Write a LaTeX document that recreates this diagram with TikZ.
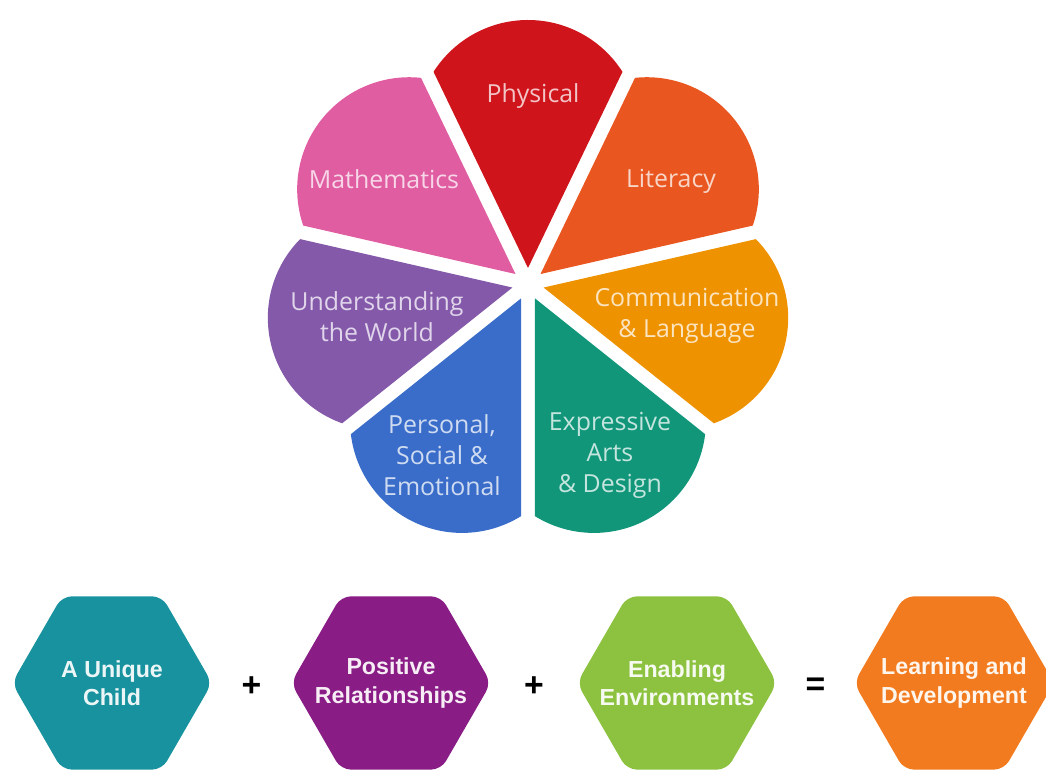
\documentclass[tikz,border=0pt]{standalone}
\usepackage{fontspec}
\setmainfont{Open Sans}
\newfontfamily\hexfont{Liberation Sans}
\usetikzlibrary{calc,shapes.geometric}

\definecolor{physical}{HTML}{D0141C}
\definecolor{maths}{HTML}{E05DA1}
\definecolor{world}{HTML}{8459AA}
\definecolor{personal}{HTML}{3A6DC9}
\definecolor{expressive}{HTML}{11967A}
\definecolor{communication}{HTML}{EF9200}
\definecolor{literacy}{HTML}{E9561F}
\definecolor{child}{HTML}{17929E}
\definecolor{positive}{HTML}{8A1C86}
\definecolor{enabling}{HTML}{8CC240}
\definecolor{learning}{HTML}{F37B1F}

\tikzset{
    petal label/.style={text=white!75!#1, align=center, font=\fontsize{17.7}{22}\selectfont},
    hexagon/.style={regular polygon, regular polygon sides=6, minimum size=5cm, inner sep=0pt,
        fill=#1, rounded corners=7pt},
    hex label/.style={text=white!92!#1, align=center,
        font=\hexfont\bfseries\fontsize{16.5}{20}\selectfont},
    sign/.style={font=\hexfont\bfseries\fontsize{24}{24}\selectfont}
}

\begin{document}
\begin{tikzpicture}[x=0.025cm,y=0.025cm]
        \useasboundingbox (0,0) rectangle (1046,773);
        \coordinate (O) at (528,489);
        % petals
        \foreach \ang/\col in {90/physical, 141.43/maths, 192.86/world, 244.29/personal,
                               295.71/expressive, 347.14/communication, 38.57/literacy} {
            \fill[\col] ($(O)+(\ang:16)$) -- ($(O)+(\ang:152)+(\ang-57.5:112)$)
                arc[start angle=\ang-57.5, end angle=\ang+57.5, radius=112] -- cycle;
        }
        \node[petal label=physical] (phys) at (533,677) {Physical};
        \node[petal label=maths] (math) at (384,594) {Mathematics};
        \node[petal label=literacy] (lit) at (671,592) {Literacy};
        \node[petal label=world] (utw) at (377,456) {Understanding\\the World};
        \node[petal label=communication] (cl) at (687,457) {Communication\\\& Language};
        \node[petal label=personal] (pse) at (442,318) {Personal,\\Social \&\\Emotional};
        \node[petal label=expressive] (ead) at (610,318) {Expressive\\Arts\\\& Design};
        % bottom row
        \node[hexagon=child] (uc) at (112,90) {};
        \node[hexagon=positive] (pr) at (391,90) {};
        \node[hexagon=enabling] (ee) at (677,90) {};
        \node[hexagon=learning] (ld) at (954,90) {};
        \node[hex label=child] (uc text) at (uc) {A Unique\\Child};
        \node[hex label=positive] (pr text) at (pr) {Positive\\Relationships};
        \node[hex label=enabling] (ee text) at (ee) {Enabling\\Environments};
        \node[hex label=learning] (ld text) at (ld) {Learning and\\Development};
        \node[sign] (plus1) at ($(uc)!0.5!(pr)+(0,-4)$) {+};
        \node[sign] (plus2) at ($(pr)!0.5!(ee)+(0,-4)$) {+};
        \node[sign] (equals) at ($(ee)!0.5!(ld)+(0,-4)$) {=};
    \end{tikzpicture}
\end{document}
